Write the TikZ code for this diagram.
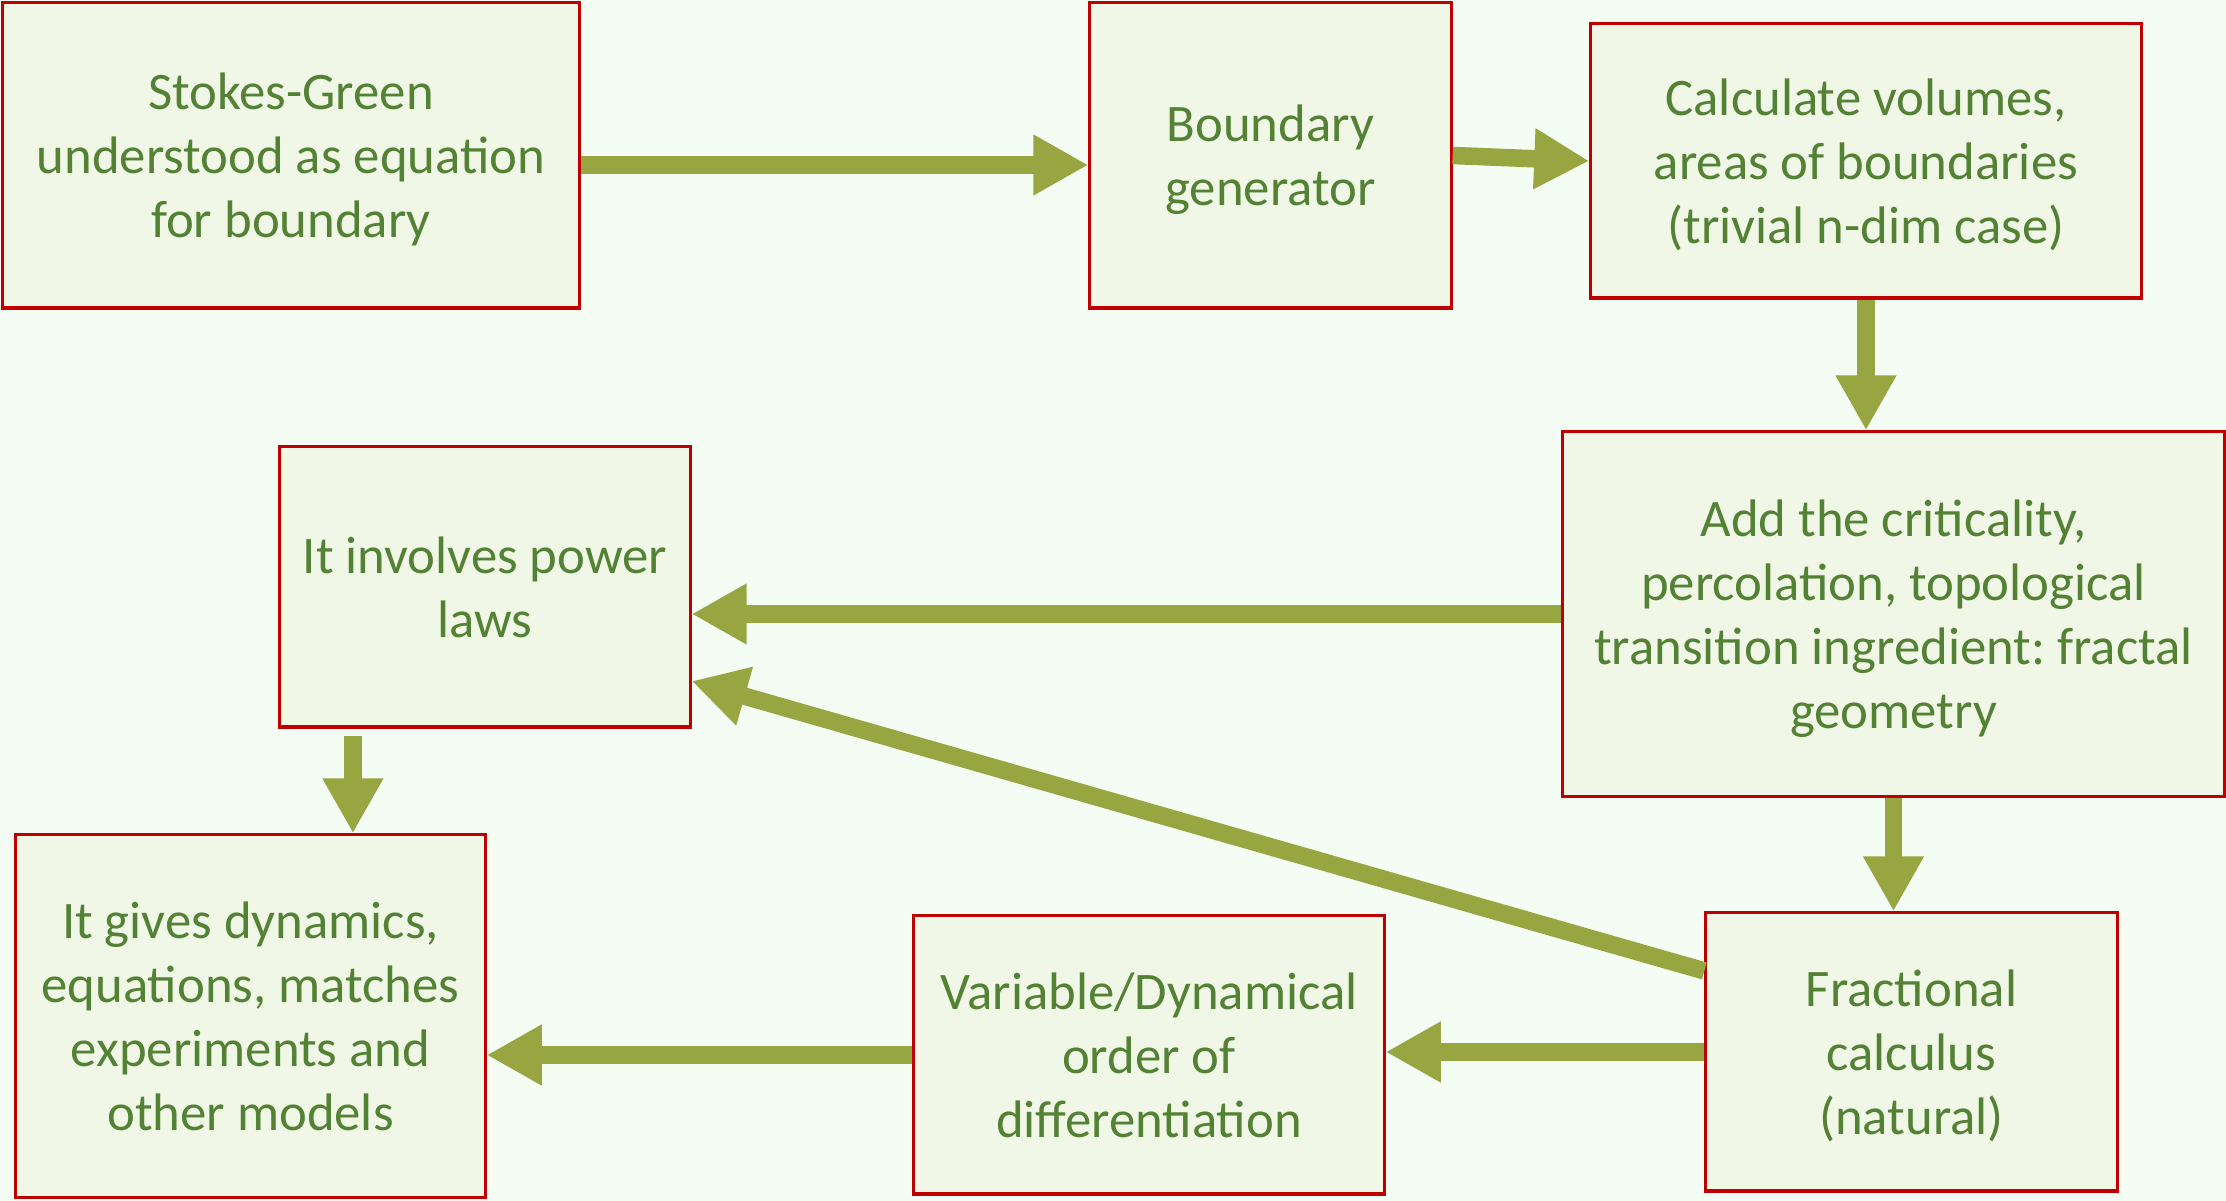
\documentclass[tikz,border=0pt]{standalone}
\usepackage{fontspec}
\setmainfont{Carlito}
\usetikzlibrary{arrows.meta}
\definecolor{bgmint}{RGB}{244,253,243}
\definecolor{boxfill}{RGB}{240,247,230}
\definecolor{boxred}{RGB}{192,0,0}
\definecolor{textgreen}{RGB}{84,130,53}
\definecolor{arrowolive}{RGB}{151,166,65}
\frenchspacing
\newcommand{\boxlines}[1]{\vbox{\kern3pt\hbox{\begin{tabular}{@{}c@{}}#1\end{tabular}}}}

\begin{document}
\begin{tikzpicture}[x=0.01cm, y=-0.01cm]
  \tikzset{block/.style={draw=boxred, fill=boxfill, line width=0.9pt, text=textgreen, inner sep=0pt, font=\fontsize{15}{18.2}\selectfont}}
  \tikzset{flow/.style={draw=arrowolive, line width=0.175cm, -{Triangle[width=0.57cm, length=0.55cm]}}}
  \fill[bgmint] (0,0) rectangle (2226,1201);
  \useasboundingbox (0,0) rectangle (2226,1201);
  \node[block, minimum width=5.76cm, minimum height=3.05cm] (stokes) at (291,155.5) {\boxlines{Stokes-Green\\understood as equation\\for boundary}};
  \node[block, minimum width=3.61cm, minimum height=3.05cm] (bgen) at (1270.5,155.5) {\boxlines{Boundary\\generator}};
  \node[block, minimum width=5.50cm, minimum height=2.74cm] (calc) at (1866,161) {\boxlines{Calculate volumes,\\areas of boundaries\\(trivial n-dim case)}};
  \node[block, minimum width=6.61cm, minimum height=3.64cm] (crit) at (1893.5,614) {\boxlines{Add the criticality,\\percolation, topological\\transition ingredient: fractal\\geometry}};
  \node[block, minimum width=4.10cm, minimum height=2.80cm] (power) at (485,587) {\boxlines{It involves power\\laws}};
  \node[block, minimum width=4.69cm, minimum height=3.62cm] (gives) at (250.5,1016) {\boxlines{It gives dynamics,\\equations, matches\\experiments and\\other models}};
  \node[block, minimum width=4.70cm, minimum height=2.78cm] (order) at (1149,1055) {\boxlines{Variable/Dynamical\\order of\\differentiation}};
  \node[block, minimum width=4.11cm, minimum height=2.78cm] (frac) at (1911.5,1052) {\boxlines{Fractional\\calculus\\(natural)}};
  \coordinate (pw) at ([xshift=-1.32cm, yshift=-0.07cm]power.south);
  \draw[flow] ([yshift=-0.095cm]stokes.east) -- ([yshift=-0.095cm]bgen.west);
  \draw[flow] (bgen.east) -- (calc.west);
  \draw[flow] (calc.south) -- (calc.south |- crit.north);
  \draw[flow] (crit.west) -- (crit.west -| power.east);
  \draw[flow] ([yshift=0.81cm]frac.west) -- ([yshift=-0.94cm]power.east);
  \draw[flow] (crit.south) -- (crit.south |- frac.north);
  \draw[flow] (frac.west) -- (frac.west -| order.east);
  \draw[flow] (order.west) -- (order.west -| gives.east);
  \draw[flow] (pw) -- (pw |- gives.north);
\end{tikzpicture}
\end{document}
